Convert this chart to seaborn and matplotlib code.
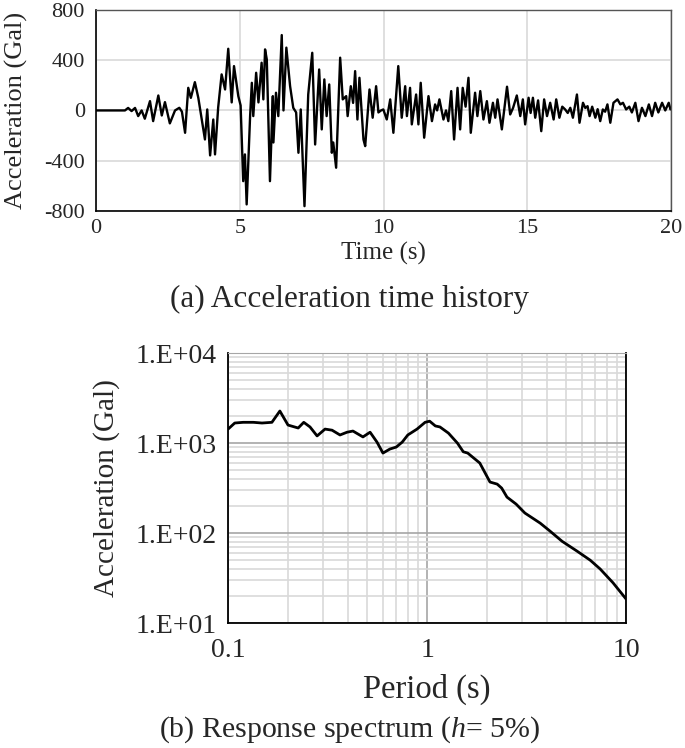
import numpy as np
import pandas as pd
import matplotlib
matplotlib.use('Agg')
import matplotlib.pyplot as plt
from matplotlib.ticker import MultipleLocator, LogLocator, FuncFormatter, NullFormatter
import seaborn as sns

# (a) acceleration time history, peaks
time_s = [0.0, 1.01, 1.12, 1.24, 1.36, 1.47, 1.59, 1.70, 1.88, 1.99, 2.17, 2.29, 2.40, 2.57, 2.75,
          2.90, 2.99, 3.10, 3.21, 3.30, 3.44, 3.56, 3.68, 3.79, 3.87, 3.97, 4.08, 4.14, 4.25, 4.37,
          4.49, 4.60, 4.72, 4.80, 4.95, 5.03, 5.12, 5.18, 5.24, 5.36, 5.42, 5.47, 5.57, 5.65, 5.76,
          5.82, 5.88, 5.94, 6.05, 6.15, 6.17, 6.26, 6.34, 6.46, 6.52, 6.62, 6.75, 6.86, 6.96, 7.04,
          7.12, 7.25, 7.38, 7.52, 7.62, 7.76, 7.85, 7.94, 8.02, 8.11, 8.20, 8.25, 8.35, 8.49, 8.58,
          8.70, 8.75, 8.86, 8.94, 9.01, 9.09, 9.16, 9.30, 9.36, 9.51, 9.62, 9.74, 9.82, 9.91, 9.99,
          10.11, 10.23, 10.34, 10.51, 10.63, 10.75, 10.81, 10.92, 10.98, 11.13, 11.21, 11.29, 11.41,
          11.56, 11.68, 11.79, 11.86, 11.94, 12.08, 12.17, 12.25, 12.35, 12.45, 12.57, 12.66, 12.75,
          12.85, 12.95, 13.03, 13.18, 13.26, 13.36, 13.47, 13.59, 13.68, 13.80, 13.88, 13.96, 14.11,
          14.29, 14.40, 14.50, 14.63, 14.75, 14.84, 14.92, 15.04, 15.11, 15.19, 15.27, 15.37, 15.48,
          15.58, 15.68, 15.79, 15.91, 16.00, 16.11, 16.21, 16.31, 16.40, 16.49, 16.58, 16.72, 16.81,
          16.93, 17.01, 17.09, 17.16, 17.25, 17.36, 17.44, 17.53, 17.62, 17.70, 17.78, 17.88, 17.99,
          18.13, 18.23, 18.32, 18.43, 18.54, 18.63, 18.75, 18.86, 18.98, 19.10, 19.22, 19.33, 19.44,
          19.55, 19.68, 19.79, 19.91, 19.97]
accel_gal = [0, 0, 20, -5, 20, -45, 0, -66, 74, -85, 119, -40, 66, -103, 0,
             21, -10, -178, 180, 100, 225, 100, -72, -231, 8, -358, -72, -350, 24, 287,
             167, 491, 64, 353, 114, 40, -563, -350, -748, -45, 220, -45, 300, 64, 380,
             88, 486, 406, -563, 114, -255, 141, -45, 600, 0, 500, 193, 21, -16, -337,
             8, -762, 127, 459, -271, 326, -151, 247, -45, 207, -337, -255, -456, 420, 88,
             114, -45, 193, 60, 313, -72, 260, -231, -284, 167, -58, 193, -16, 0, 8,
             -72, 88, -178, 353, -58, 193, -45, 180, -111, 127, -111, 220, -217,
             114, -85, 48, 0, 88, -72, 0, -85, 154, -231, 180, -151, 180,
             30, 260, -178, 141, -45, 154, -72, 74, -98, 61, -58, 88, -151,
             189, -32, 20, 119, -45, 88, -111, 101, -20, 101, -58, 80, -165,
             88, -45, 61, -72, 88, -58, 30, 8, -20, 21, -58, 127, -98,
             61, 20, 34, -45, 30, -58, 10, -85, 8, -10, 48, -98, 61,
             88, 48, 61, 8, 30, -16, 61, -85, 21, -45, 48, -45, 61,
             -16, 61, 0, 61, 8]

# (b) response spectrum, h = 5%
period_s = [0.10, 0.108, 0.119, 0.134, 0.148, 0.166, 0.182, 0.20, 0.225, 0.24, 0.258, 0.28,
            0.307, 0.333, 0.365, 0.396, 0.424, 0.476, 0.517, 0.56, 0.60, 0.65, 0.70, 0.75,
            0.80, 0.89, 0.977, 1.03, 1.10, 1.16, 1.28, 1.42, 1.52, 1.60, 1.84, 2.07, 2.25,
            2.37, 2.52, 2.80, 3.10, 3.70, 4.15, 4.77, 5.67, 6.60, 7.40, 8.60, 10.0]
spec_gal = [1430, 1670, 1700, 1700, 1670, 1700, 2270, 1585, 1470, 1700, 1510, 1200,
            1430, 1390, 1230, 1320, 1360, 1170, 1320, 1025, 774, 858, 903, 1025,
            1230, 1430, 1700, 1750, 1550, 1510, 1290, 1000, 800, 774, 600, 369, 350,
            316, 251, 210, 167, 129, 105, 81, 63, 50, 40, 28, 18.5]

sns.set_style("white")
plt.rcParams['font.family'] = ['Liberation Serif', 'DejaVu Serif']
plt.rcParams['axes.unicode_minus'] = False
plt.rcParams['mathtext.fontset'] = 'custom'
plt.rcParams['mathtext.it'] = 'Liberation Serif:italic'

fig = plt.figure(figsize=(6.85, 7.48), dpi=100)
ax1 = fig.add_axes([0.140, 0.718, 0.840, 0.2687])
ax2 = fig.add_axes([0.333, 0.167, 0.581, 0.361])

df1 = pd.DataFrame({'t': time_s, 'a': accel_gal})
sns.lineplot(data=df1, x='t', y='a', ax=ax1, color='black', lw=1.7, estimator=None)
ax1.set_xlim(0, 20)
ax1.set_ylim(-800, 800)
ax1.xaxis.set_major_locator(MultipleLocator(5))
ax1.xaxis.set_minor_locator(MultipleLocator(1))
ax1.yaxis.set_major_locator(MultipleLocator(400))
ax1.yaxis.set_minor_locator(MultipleLocator(200))
ax1.grid(True, which='major', color='#d9d9d9', lw=1.2)
ax1.tick_params(axis='both', which='major', direction='inout', length=8, width=1, labelsize=16, color='black')
ax1.tick_params(axis='both', which='minor', direction='out', length=5, width=1, color='black')
ax1.tick_params(axis='x', pad=2)
ax1.tick_params(axis='y', pad=4)
for s in ['left', 'bottom']:
    ax1.spines[s].set_color('black')
    ax1.spines[s].set_linewidth(1.2)
for s in ['top', 'right']:
    ax1.spines[s].set_color('#555555')
    ax1.spines[s].set_linewidth(1.0)
ax1.set_xlabel('Time (s)', fontsize=18)
ax1.xaxis.set_label_coords(0.5, -0.155)
ax1.set_ylabel('Acceleration (Gal)', fontsize=19)
ax1.yaxis.set_label_coords(-0.118, 0.5)
fig.text(0.51, 0.600, '(a) Acceleration time history', fontsize=22.5, ha='center', va='center')

df2 = pd.DataFrame({'T': period_s, 'Sa': spec_gal})
sns.lineplot(data=df2, x='T', y='Sa', ax=ax2, color='black', lw=2.0, estimator=None)
ax2.set_xscale('log')
ax2.set_yscale('log')
ax2.set_xlim(0.1, 10)
ax2.set_ylim(10, 10000)
ax2.xaxis.set_major_locator(LogLocator(base=10, numticks=10))
ax2.xaxis.set_minor_locator(LogLocator(base=10, subs=np.arange(2, 10), numticks=20))
ax2.yaxis.set_major_locator(LogLocator(base=10, numticks=10))
ax2.yaxis.set_minor_locator(LogLocator(base=10, subs=np.arange(2, 10), numticks=20))
ax2.xaxis.set_major_formatter(FuncFormatter(lambda v, p: '%g' % v))
ax2.yaxis.set_major_formatter(FuncFormatter(lambda v, p: '1.E+%02d' % int(round(np.log10(v)))))
ax2.xaxis.set_minor_formatter(NullFormatter())
ax2.yaxis.set_minor_formatter(NullFormatter())
ax2.grid(True, which='minor', color='#d9d9d9', lw=1.2)
ax2.grid(True, which='major', color='#a6a6a6', lw=1.2)
ax2.tick_params(axis='both', which='major', direction='out', length=7, width=1.2, labelsize=20, color='black')
ax2.tick_params(axis='both', which='minor', direction='out', length=5, width=1.2, color='black')
ax2.tick_params(axis='y', pad=1.5)
for s in ['left', 'bottom', 'right']:
    ax2.spines[s].set_color('black')
    ax2.spines[s].set_linewidth(1.3)
ax2.spines['top'].set_color('#a6a6a6')
ax2.set_xlabel('Period (s)', fontsize=23.5, labelpad=8)
ax2.set_ylabel('Acceleration (Gal)', fontsize=21)
ax2.yaxis.set_label_coords(-0.272, 0.5)
fig.text(0.51, 0.024, '(b) Response spectrum ($h$= 5%)', fontsize=21.5, ha='center', va='center')

fig.savefig('out.png', dpi=100)
